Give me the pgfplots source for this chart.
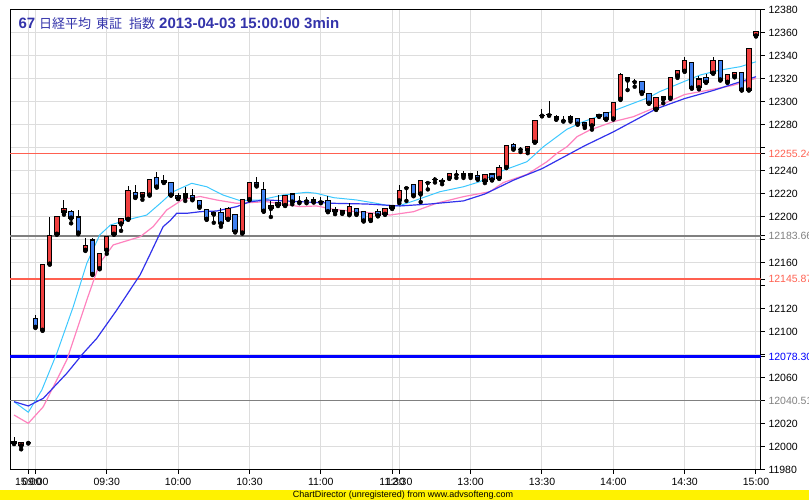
\documentclass[border=0pt]{standalone}
\usepackage{pgfplots}
\usepackage{pgfplotstable}
\pgfplotsset{compat=1.18}
\usepackage{fontspec}
\setmainfont{Liberation Sans}
\newfontfamily\cjk{Noto Sans CJK JP}

\definecolor{candred}{RGB}{240,64,64}
\definecolor{candblue}{RGB}{64,128,240}
\definecolor{macyan}{RGB}{60,200,255}
\definecolor{mapink}{RGB}{255,130,190}
\definecolor{mablue}{RGB}{50,50,235}
\definecolor{salm}{RGB}{255,96,80}
\definecolor{markgray}{RGB}{128,128,128}
\definecolor{titleblue}{RGB}{51,51,170}
\definecolor{gridgray}{RGB}{221,221,221}

% 3-min bars: k = bar index, 0 = previous close (15:00), 1 = 09:00
\pgfplotstableread{
k o h l c
-2 12005 12008.5 12003 12003
-1 12001 12004 11998 12004
0 12003.5 12003.5 12003.5 12003.5
1 12112 12115 12104 12104
2 12101.5 12159 12101.5 12159
3 12159 12200 12159 12183.5
4 12185 12200.6 12185 12200.6
5 12204 12215 12202 12207
6 12205 12206 12194.5 12199
7 12200 12206 12185 12186
8 12171 12182 12171 12175
9 12180 12182 12150 12150
10 12155 12168 12155 12168
11 12171 12183 12168 12183
12 12185 12193 12185 12193
13 12194 12199 12188 12199
14 12198 12227 12198 12223
15 12221 12228 12217 12217
16 12218 12221.5 12215 12221.5
17 12219 12233 12219 12233
18 12234 12239.5 12226 12226
19 12230 12236.5 12230 12232
20 12230 12230 12219 12219
21 12219 12221 12216 12216
22 12217 12226 12214 12220
23 12219 12224 12215 12215
24 12214 12214 12208.5 12208.5
25 12206.7 12206.7 12198 12198
26 12204 12204 12195 12202.5
27 12204 12207.5 12191.5 12194
28 12198 12209 12198 12207.5
29 12202 12202 12187 12187
30 12186 12215 12186 12215
31 12215 12230 12215 12230
32 12230 12234.5 12227 12227
33 12224 12230 12205 12205
34 12207.5 12214 12200 12209.6
35 12210 12219 12210 12213
36 12210 12219 12210 12219
37 12220 12220 12211 12213
38 12213.3 12218 12212 12213.3
39 12214 12217 12212 12214
40 12215.4 12217 12213 12213
41 12213.3 12217.5 12212 12213.3
42 12214 12218 12204.6 12204.6
43 12206.7 12209 12202.5 12204.6
44 12205.2 12205.2 12203.2 12203.2
45 12202 12212 12202 12209
46 12207.5 12207.5 12202.3 12202.3
47 12204.6 12204.6 12196.5 12196.5
48 12197 12203 12197 12203
49 12204.6 12207 12201 12201
50 12202.3 12207.5 12202.3 12207.5
51 12209.6 12209.6 12207.5 12207.5
52 12214 12228 12212 12223
53 12225.5 12226 12214 12225.5
54 12228 12228 12218.5 12218.5
55 12220 12231.6 12213 12231.6
56 12230 12231 12224 12230
57 12233 12235 12230 12233
58 12231.3 12233.5 12228.5 12231.3
59 12233.6 12238 12233.6 12238
60 12237 12240.5 12234 12237
61 12235.7 12239.7 12234 12237.4
62 12238 12238 12234 12236
63 12235.7 12240 12232.8 12232.8
64 12231.3 12237.1 12229.5 12237.1
65 12237.4 12237.4 12232.2 12232.2
66 12233.6 12245 12233.6 12243.2
67 12243 12262 12243 12262
68 12263 12264.5 12259 12259
69 12259 12261 12256.5 12259
70 12258 12261 12255.5 12261
71 12265 12283.5 12265 12283.5
72 12288.5 12293.6 12287.5 12288.5
73 12289 12301 12288 12289
74 12287 12289 12285 12285
75 12284 12288 12283 12284
76 12285 12289 12283 12287
77 12286 12286 12280.7 12280.7
78 12281.8 12281.8 12277.5 12279.2
79 12279.2 12285.8 12276 12285.8
80 12287.5 12289.5 12287.5 12289.5
81 12290.7 12290.7 12285 12285
82 12285.2 12299.7 12285.2 12299.7
83 12302.3 12325.5 12302.3 12324.3
84 12321.5 12321.5 12310.4 12319.1
85 12317.7 12319.7 12313.3 12317.7
86 12317.7 12318.5 12307 12308.1
87 12307.5 12307.5 12298.9 12298.9
88 12293.6 12304.1 12293.6 12304.1
89 12302.6 12304.6 12298.9 12304.6
90 12303.2 12321.5 12303.2 12321.5
91 12322.6 12327.5 12321 12327.5
92 12326.7 12339 12326.7 12336.2
93 12334.5 12334.5 12312 12312
94 12312.4 12322.5 12311 12320
95 12321.5 12324.5 12317.1 12317.1
96 12325 12339 12325 12336.5
97 12335.9 12335.9 12319.1 12319.1
98 12317.1 12323.5 12317.1 12323.5
99 12322 12326.5 12321.5 12325.8
100 12325.8 12325.8 12310.4 12310.4
101 12310.4 12346.7 12310.4 12346.7
102 12357.4 12361.7 12357.4 12361.7
}\candles

\pgfplotstableread{
k v
-2 12039.4
0 12030.2
1.9 12049.6
4 12081.5
6.3 12122
8.2 12159.7
10 12184.3
11.5 12193
13.8 12197.4
16.6 12201.7
18.5 12211.9
20.3 12222
22.9 12229.3
25 12226.3
27.3 12219.1
29.7 12214.2
32.5 12214.8
35.7 12219.1
39 12221.5
40.4 12220.6
42.8 12216.8
46 12214.8
48.8 12211.9
50.7 12209.6
52 12209.8
54.4 12214.8
57.7 12222
61 12226.3
63.3 12230.7
66.1 12239.4
69.9 12248.1
72.2 12261.1
75.5 12276.3
77.8 12282.9
81.5 12291
84 12297
87 12304
88.5 12309
92 12318
94.2 12323.5
97 12327.8
99.8 12330.7
102 12335
}\macyantab

\pgfplotstableread{
k v
-2 12027.8
0 12020.6
2.1 12035
5.4 12075.7
8.2 12127.8
10 12159.7
11.9 12175.7
15.7 12182.9
17.5 12191.6
19.4 12206.1
21.7 12215.4
24.1 12217.8
26.4 12214.8
29.2 12211.9
33.4 12213.3
38.1 12209
40.4 12209.6
42.8 12206.7
46 12204.6
48.8 12203.2
50.7 12201.7
54 12204.6
57.2 12211.9
61 12217.7
64.7 12222
66.6 12230
69.9 12237
72.7 12248.1
74.1 12255.4
75.5 12261.1
76.9 12269.8
78.7 12275.6
82 12282.9
84.8 12287.2
87.6 12294.5
92 12306.5
95.1 12310
98.8 12314.5
102 12320.6
}\mapinktab

\pgfplotstableread{
k v
-2 12039.4
0 12035.7
2.1 12042.3
5.4 12064.1
7.7 12081.5
9.6 12094.5
12.4 12119.1
15.7 12150
17.1 12168
18.9 12191.6
19.9 12197
20.8 12203.2
22.2 12203.2
24.1 12204.6
26.4 12205.2
29.2 12209
31.1 12213.3
33.4 12214.8
38.1 12213.3
42.8 12211.9
47.4 12211.3
52.1 12209.6
56.3 12211.3
61 12214
64 12220
66 12226
68 12232
72 12242
75 12252
78 12262
82 12274
85 12284
88 12294
92 12303
96 12310
99 12316
102 12322
}\mabluetab

\begin{document}
\begin{tikzpicture}
\begin{axis}[
  at={(0,0)}, anchor=south west,
  scale only axis, width=750.7pt, height=460pt,
  xmin=-2.565, xmax=102.66, ymin=11980, ymax=12380,
  axis line style={black, line width=1pt},
  xtick={0,1,11,21,31,41,51,52,62,72,82,92,102},
  xticklabels={15:00,09:00,09:30,10:00,10:30,11:00,11:30,12:30,13:00,13:30,14:00,14:30,15:00},
  ytick={11980,12000,...,12380},
  yticklabels={11980,12000,12020,,12060,,12100,12120,,12160,,12200,12220,12240,,12280,12300,12320,12340,12360,12380},
  extra y ticks={12255.24,12183.66,12145.87,12078.30,12040.51},
  extra y tick labels={\textcolor{salm}{12255.24},\textcolor{markgray}{12183.66},\textcolor{salm}{12145.87},\textcolor{blue}{12078.30},\textcolor{markgray}{12040.51}},
  extra y tick style={grid=none},
  scaled y ticks=false,
  xtick pos=bottom, ytick pos=right, yticklabel pos=right,
  tick align=outside, major tick length=4pt,
  tick style={black, line width=1pt},
  grid=major, grid style={draw=gridgray, line width=1pt},
  ticklabel style={font=\fontsize{10.5}{12}\selectfont, inner sep=0pt},
  yticklabel style={anchor=west, xshift=3.6pt},
  xticklabel style={anchor=north, yshift=-4.3pt},
  clip=true,
]
% mark lines
\addplot[salm, line width=1pt] coordinates {(-2.565,12255.24) (102.66,12255.24)};
\addplot[markgray, line width=1.5pt] coordinates {(-2.565,12183.66) (102.66,12183.66)};
\addplot[salm, line width=2pt] coordinates {(-2.565,12145.87) (102.66,12145.87)};
\addplot[blue, line width=3pt] coordinates {(-2.565,12078.30) (102.66,12078.30)};
\addplot[markgray, line width=1.5pt] coordinates {(-2.565,12040.51) (102.66,12040.51)};

% moving averages
\addplot[macyan, line width=1pt] table[x=k, y=v] {\macyantab};
\addplot[mapink, line width=1.2pt] table[x=k, y=v] {\mapinktab};
\addplot[mablue, line width=1.2pt] table[x=k, y=v] {\mabluetab};

% candles: wicks
\addplot[only marks, mark=none, error bars/.cd, y dir=plus, y explicit, error mark=none,
  error bar style={draw=black, line width=1pt}]
  table[x=k, y=l, y error plus expr=\thisrow{h}-\thisrow{l}] {\candles};
% candles: body outline (half a pixel beyond open/close)
\addplot[only marks, mark=none, error bars/.cd, y dir=plus, y explicit, error mark=none,
  error bar style={draw=black, line width=5.4pt}]
  table[x=k, y expr={min(\thisrow{o},\thisrow{c})-0.45},
    y error plus expr={abs(\thisrow{c}-\thisrow{o})+0.9}] {\candles};
% candles: up bodies
\addplot[only marks, mark=none,
  restrict expr to domain={\thisrow{c}-\thisrow{o}}{0.95:1000},
  error bars/.cd, y dir=plus, y explicit, error mark=none,
  error bar style={draw=candred, line width=3.4pt}]
  table[x=k, y expr={\thisrow{o}+0.45},
    y error plus expr={\thisrow{c}-\thisrow{o}-0.9}] {\candles};
% candles: down bodies
\addplot[only marks, mark=none,
  restrict expr to domain={\thisrow{o}-\thisrow{c}}{0.95:1000},
  error bars/.cd, y dir=plus, y explicit, error mark=none,
  error bar style={draw=candblue, line width=3.4pt}]
  table[x=k, y expr={\thisrow{c}+0.45},
    y error plus expr={\thisrow{o}-\thisrow{c}-0.9}] {\candles};

\node[anchor=base west, inner sep=0pt, text=titleblue] at (rel axis cs:0,1) [xshift=8.3pt, yshift=-18.3pt]
  {\fontsize{15}{17}\selectfont\bfseries 67\hspace{4pt}{\cjk\mdseries\fontsize{13}{15}\selectfont 日経平均\hspace{5pt}東証\hspace{7pt}指数}\hspace{4pt}2013-04-03 15:00:00 3min};
\end{axis}
\fill[yellow] (-10pt,-30pt) rectangle (799pt,-20pt);
\node[inner sep=0pt, font=\fontsize{9}{10}\selectfont] at (393pt,-25pt) {ChartDirector (unregistered) from www.advsofteng.com};
\pgfresetboundingbox
\path[use as bounding box] (-10pt,-30pt) rectangle (799pt,470pt);
\end{tikzpicture}
\end{document}
